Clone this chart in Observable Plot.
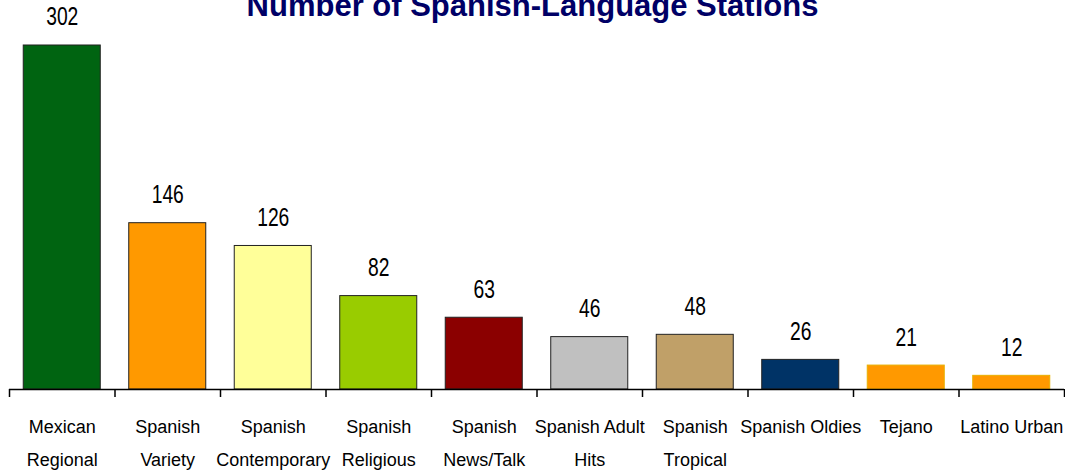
<!DOCTYPE html>
<html>
<head>
<meta charset="utf-8">
<script src="https://cdn.jsdelivr.net/npm/d3@7"></script>
<script src="https://cdn.jsdelivr.net/npm/@observablehq/plot@0.6"></script>
<style>
  html, body { margin: 0; padding: 0; background: #fff; }
  #wrap { position: relative; width: 1065px; height: 471px; overflow: hidden; font-family: "Liberation Sans", Arial, sans-serif; }
  #title { position: absolute; left: 0; top: -9px; width: 1065px; text-align: center;
           font: bold 31px/30px "Liberation Sans", Arial, sans-serif; color: #000066; z-index: 2; }
  #chart { position: absolute; left: 0; top: 0; }
</style>
</head>
<body>
<div id="wrap">
  <div id="title">Number of Spanish-Language Stations</div>
  <div id="chart"></div>
</div>
<script>
// ---- data ----
const categories = ["Mexican Regional", "Spanish Variety", "Spanish Contemporary", "Spanish Religious",
  "Spanish News/Talk", "Spanish Adult Hits", "Spanish Tropical", "Spanish Oldies", "Tejano", "Latino Urban"];
const categoryLabels = ["Mexican\nRegional", "Spanish\nVariety", "Spanish\nContemporary", "Spanish\nReligious",
  "Spanish\nNews/Talk", "Spanish Adult\nHits", "Spanish\nTropical", "Spanish Oldies", "Tejano", "Latino Urban"];
const stations = [302, 146, 126, 82, 63, 46, 48, 26, 21, 12];

// ---- styles ----
const barColors = ["#006411", "#FF9900", "#FFFF99", "#99CC00", "#8B0000", "#C0C0C0", "#C0A068", "#003366", "#FF9900", "#FF9900"];
const barOutlines = ["#222", "#222", "#222", "#222", "#222", "#222", "#222", "#222", "#E8B000", "#E8B000"];
const pad = 0.135;

const idx = d3.range(categories.length);

const chart = Plot.plot({
  width: 1065,
  height: 471,
  marginLeft: 9,
  marginRight: 1,
  marginTop: 0,
  marginBottom: 82,
  style: { fontFamily: "'Liberation Sans', Arial, sans-serif", overflow: "visible", background: "#fff" },
  x: { type: "linear", domain: [0, categories.length], axis: null },
  y: { domain: [0, 341.5], axis: null },
  color: { type: "identity" },
  marks: [
    Plot.rectY(idx, {
      x1: i => i + pad, x2: i => i + 1 - pad, y1: 0, y2: i => stations[i],
      fill: i => barColors[i], stroke: i => barOutlines[i], strokeWidth: 1
    }),
    Plot.text(idx, {
      x: i => i + 0.5, y: i => stations[i], text: i => String(stations[i]),
      lineAnchor: "bottom", dy: -20, fontSize: 25, fill: "#000", className: "vlabel"
    }),
    Plot.ruleY([0], { stroke: "#000", strokeWidth: 1.5 }),
    Plot.axisX({ ticks: d3.range(categories.length + 1), tickSize: 8, tickFormat: () => "", stroke: "#000", strokeWidth: 1.5, label: null }),
    Plot.text(idx, {
      x: i => i + 0.5, y: 0, text: i => categoryLabels[i],
      lineAnchor: "top", dy: 20, lineHeight: 1.833, fontSize: 18, fill: "#000"
    })
  ]
});
// narrow the value labels horizontally (condensed look of the original)
d3.select(chart).selectAll("g.vlabel text").each(function () {
  const t = this.getAttribute("transform");
  if (t) this.setAttribute("transform", t + " scale(0.77,1)");
});
document.getElementById("chart").appendChild(chart);
</script>
</body>
</html>
